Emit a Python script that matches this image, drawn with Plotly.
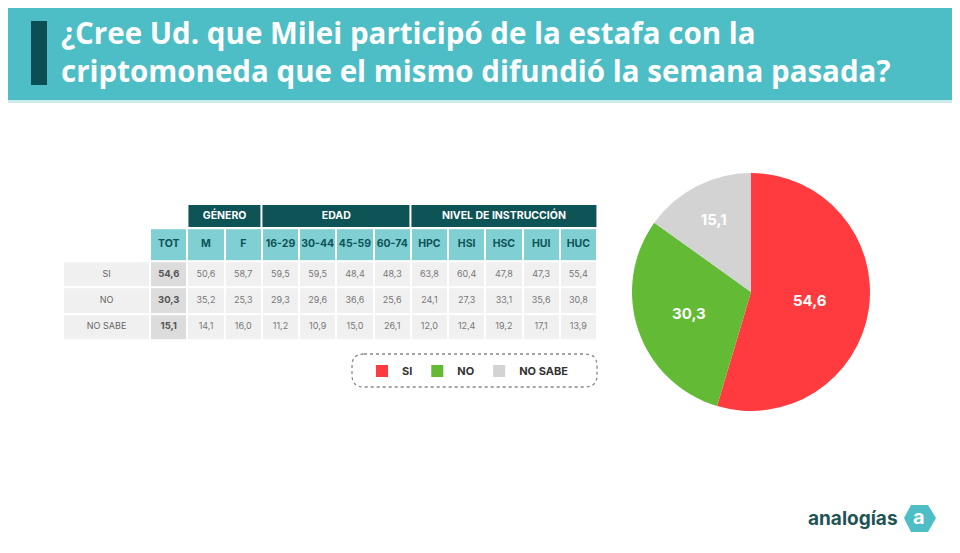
import numpy as np
import plotly.graph_objects as go

# ---- data ----
groups = ["GÉNERO", "EDAD", "NIVEL DE INSTRUCCIÓN"]
group_sizes = [2, 4, 5]
columns = ["TOT", "M", "F", "16-29", "30-44", "45-59", "60-74",
           "HPC", "HSI", "HSC", "HUI", "HUC"]
answers = ["SI", "NO", "NO SABE"]
si = [54.6, 50.6, 58.7, 59.5, 59.5, 48.4, 48.3, 63.8, 60.4, 47.8, 47.3, 55.4]
no = [30.3, 35.2, 25.3, 29.3, 29.6, 36.6, 25.6, 24.1, 27.3, 33.1, 35.6, 30.8]
no_sabe = [15.1, 14.1, 16.0, 11.2, 10.9, 15.0, 26.1, 12.0, 12.4, 19.2, 17.1, 13.9]
pie_values = [54.6, 30.3, 15.1]

# ---- style ----
W, H = 960, 553
OFF = 8  # page margin round the figure
TEAL = "#4DBDC6"
DARK = "#0E5356"
LIGHT = "#7FCFD3"
answer_colors = ["#FF3B3F", "#63BA35", "#D3D3D3"]
FONT = "Inter"


def fmt(v):
    return f"{v:.1f}".replace(".", ",")


def px(x):
    return (x - OFF) / W


def py(y):
    return 1 - (y - OFF) / H


fig = go.Figure()

# table geometry (axis units)
LABEL_W = 2.34
x_edges = np.concatenate([[0], LABEL_W + np.arange(len(columns) + 1)])
x_mid = (x_edges[:-1] + x_edges[1:]) / 2
row_h = [33, 26, 26, 26]
y_edges = np.concatenate([[24], 24 + np.cumsum(row_h)])
y_mid = (y_edges[:-1] + y_edges[1:]) / 2
g_edges = np.concatenate([[LABEL_W + 1], LABEL_W + 1 + np.cumsum(group_sizes)])
g_mid = (g_edges[:-1] + g_edges[1:]) / 2

# cell colour codes: 0 data, 1 tot, 2 sub header, 3 group header
z = [[np.nan] + [2] * len(columns)]
for _ in answers:
    z.append([0, 1] + [0] * (len(columns) - 1))
cscale = [[0, "#F0F0F0"], [1 / 3, "#DCDCDC"], [2 / 3, LIGHT], [1, DARK]]

fig.add_trace(go.Heatmap(x=x_edges, y=y_edges, z=z, zmin=0, zmax=3,
                         colorscale=cscale, showscale=False, xgap=2, ygap=2,
                         hoverinfo="skip", showlegend=False))
fig.add_trace(go.Heatmap(x=g_edges, y=[0, 24], z=[[3] * len(groups)], zmin=0, zmax=3,
                         colorscale=cscale, showscale=False, xgap=2, ygap=2,
                         hoverinfo="skip", showlegend=False))

# table text
fig.add_trace(go.Scatter(x=g_mid, y=[12] * len(groups), text=groups, mode="text",
                         textfont=dict(family=FONT, size=10.5, color="white", weight="bold"),
                         hoverinfo="skip", showlegend=False))
fig.add_trace(go.Scatter(x=x_mid[1:], y=[y_mid[0]] * len(columns), text=columns, mode="text",
                         textfont=dict(family=FONT, size=10.5, color=DARK, weight="bold"),
                         hoverinfo="skip", showlegend=False))
fig.add_trace(go.Scatter(x=[x_mid[0]] * len(answers), y=y_mid[1:], text=answers, mode="text",
                         textfont=dict(family=FONT, size=9, color="#666666"),
                         hoverinfo="skip", showlegend=False))
rows = [si, no, no_sabe]
fig.add_trace(go.Scatter(x=[x_mid[1]] * len(answers), y=y_mid[1:],
                         text=[fmt(r[0]) for r in rows], mode="text",
                         textfont=dict(family=FONT, size=9.5, color="#555555", weight="bold"),
                         hoverinfo="skip", showlegend=False))
tx, ty, tt = [], [], []
for i, r in enumerate(rows):
    for j, v in enumerate(r[1:]):
        tx.append(x_mid[j + 2])
        ty.append(y_mid[i + 1])
        tt.append(fmt(v))
fig.add_trace(go.Scatter(x=tx, y=ty, text=tt, mode="text",
                         textfont=dict(family=FONT, size=9, color="#777777"),
                         hoverinfo="skip", showlegend=False))

# pie
fig.add_trace(go.Pie(values=pie_values, labels=answers, sort=False,
                     direction="clockwise", rotation=0,
                     text=[fmt(v) for v in pie_values], textinfo="text",
                     insidetextorientation="horizontal",
                     textfont=dict(family=FONT, size=15, color="white", weight="bold"),
                     marker=dict(colors=answer_colors, line=dict(width=0)),
                     domain=dict(x=[px(632), px(870)], y=[py(411), py(173)]),
                     hoverinfo="skip"))


def rounded_rect(x0, y0, x1, y1, r):
    return (f"M {px(x0 + r)},{py(y0)} L {px(x1 - r)},{py(y0)} "
            f"Q {px(x1)},{py(y0)} {px(x1)},{py(y0 + r)} L {px(x1)},{py(y1 - r)} "
            f"Q {px(x1)},{py(y1)} {px(x1 - r)},{py(y1)} L {px(x0 + r)},{py(y1)} "
            f"Q {px(x0)},{py(y1)} {px(x0)},{py(y1 - r)} L {px(x0)},{py(y0 + r)} "
            f"Q {px(x0)},{py(y0)} {px(x0 + r)},{py(y0)} Z")


hexagon = (f"M {px(911)},{py(505)} L {px(928)},{py(505)} L {px(936)},{py(518)} "
           f"L {px(928)},{py(532)} L {px(911)},{py(532)} L {px(904)},{py(518)} Z")

shapes = [
    dict(type="rect", xref="paper", yref="paper", x0=0, x1=1, y0=py(100), y1=1,
         fillcolor=TEAL, line_width=0, layer="below"),
    dict(type="rect", xref="paper", yref="paper", x0=0, x1=1, y0=py(103), y1=py(100),
         fillcolor="#CDEBEE", line_width=0, layer="below"),
    dict(type="rect", xref="paper", yref="paper", x0=px(31), x1=px(47), y0=py(85), y1=py(21),
         fillcolor="#0B4F55", line_width=0),
    dict(type="path", xref="paper", yref="paper", path=rounded_rect(352, 354, 597, 387, 12),
         line=dict(color="#888888", width=1.3, dash="dot")),
    dict(type="path", xref="paper", yref="paper", path=hexagon,
         fillcolor=TEAL, line_width=0),
]

annotations = [
    dict(x=px(59), y=py(51), xref="paper", yref="paper", xanchor="left", yanchor="middle",
         align="left", showarrow=False,
         text="¿Cree Ud. que Milei participó de la estafa con la<br>"
              "criptomoneda que el mismo difundió la semana pasada?",
         font=dict(family="Open Sans", size=29.5, color="white", weight=700)),
    dict(x=px(900), y=py(518), xref="paper", yref="paper", xanchor="right", yanchor="middle",
         showarrow=False, text="analogías",
         font=dict(family=FONT, size=19, color="#1F5456", weight="bold")),
    dict(x=px(919), y=py(517), xref="paper", yref="paper", xanchor="center", yanchor="middle",
         showarrow=False, text="a",
         font=dict(family=FONT, size=20, color="white", weight="bold")),
]

fig.update_layout(
    width=W, height=H, margin=dict(l=0, r=0, t=0, b=0),
    paper_bgcolor="white", plot_bgcolor="white",
    shapes=shapes, annotations=annotations,
    xaxis=dict(domain=[px(63), px(597)], range=[x_edges[0], x_edges[-1]],
               visible=False, fixedrange=True),
    yaxis=dict(domain=[py(340), py(204)], range=[y_edges[-1], 0],
               visible=False, fixedrange=True),
    legend=dict(orientation="h", x=px(468), y=py(371), xanchor="center", yanchor="middle",
                font=dict(family=FONT, size=11, color="#333333", weight="bold"),
                bgcolor="rgba(0,0,0,0)", itemclick=False, itemdoubleclick=False),
)

fig.write_html("out.html")
